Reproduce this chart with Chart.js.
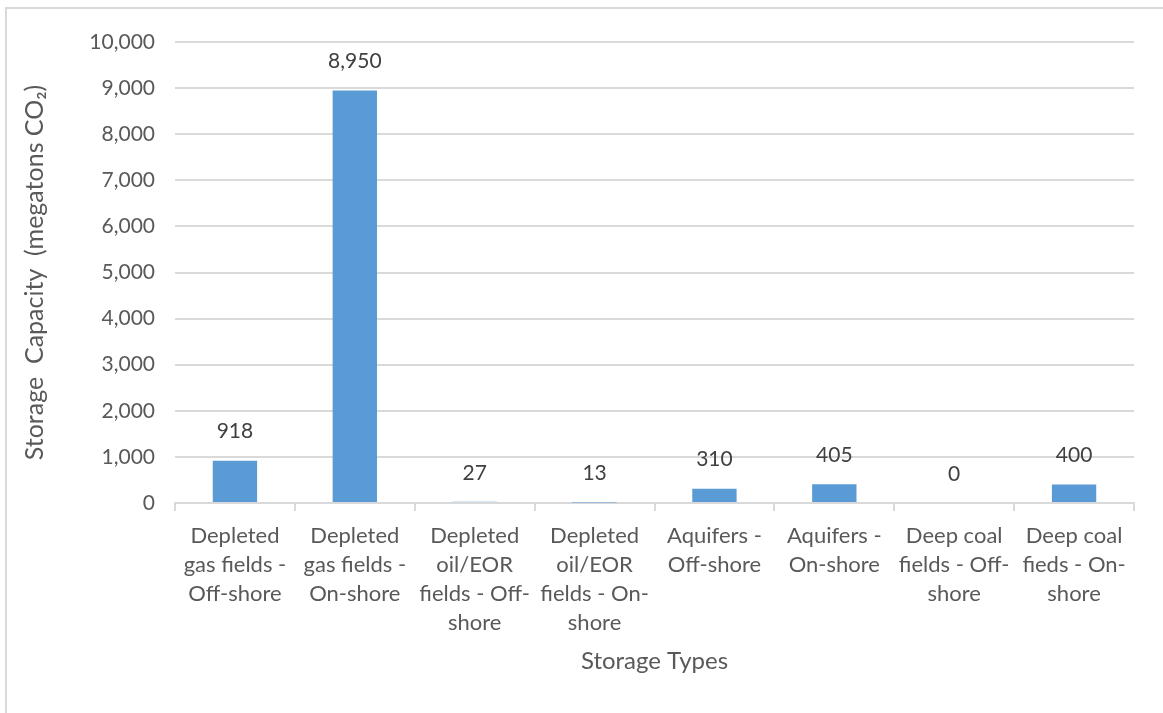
<!DOCTYPE html>
<html>
<head>
<meta charset="utf-8">
<script src="https://cdn.jsdelivr.net/npm/chart.js@4.4.1/dist/chart.umd.min.js"></script>
<style>
  html, body { margin: 0; padding: 0; background: #fff; }
  .frame {
    position: absolute; left: 5px; top: 7px; width: 1200px; height: 760px;
    border: 2px solid #d9d9d9; box-sizing: border-box;
  }
  .wrap { position: absolute; left: 0; top: 0; width: 1163px; height: 713px; }
</style>
</head>
<body>
<div class="frame"></div>
<div class="wrap"><canvas id="storageChart"></canvas></div>
<script>
// storage types and capacities (megatons CO2)
const storageTypes = [
  ["Depleted", "gas fields -", "Off-shore"],
  ["Depleted", "gas fields -", "On-shore"],
  ["Depleted", "oil/EOR", "fields - Off-", "shore"],
  ["Depleted", "oil/EOR", "fields - On-", "shore"],
  ["Aquifers -", "Off-shore"],
  ["Aquifers -", "On-shore"],
  ["Deep coal", "fields - Off-", "shore"],
  ["Deep coal", "fieds - On-", "shore"]
];
const capacity = [918, 8950, 27, 13, 310, 405, 0, 400];
const yTicks = [0, 1000, 2000, 3000, 4000, 5000, 6000, 7000, 8000, 9000, 10000];

const FONT = "Lato, 'Open Sans', sans-serif";

// value labels above each bar
const barValueLabels = {
  id: 'barValueLabels',
  afterDatasetsDraw(chart) {
    const ctx = chart.ctx;
    const meta = chart.getDatasetMeta(0);
    ctx.save();
    ctx.font = "21px " + FONT;
    ctx.fillStyle = '#404040';
    ctx.textAlign = 'center';
    ctx.textBaseline = 'middle';
    meta.data.forEach((bar, i) => {
      ctx.fillText(capacity[i].toLocaleString('en-US'), bar.x, bar.y - 29);
    });
    ctx.restore();
  }
};

new Chart(document.getElementById('storageChart'), {
  type: 'bar',
  data: {
    labels: storageTypes,
    datasets: [{
      data: capacity,
      backgroundColor: '#5b9bd5',
      borderWidth: 0,
      categoryPercentage: 1,
      barPercentage: 0.37
    }]
  },
  options: {
    responsive: true,
    maintainAspectRatio: false,
    animation: false,
    layout: { padding: { left: 20, top: 42, right: 29, bottom: 37 } },
    plugins: {
      legend: { display: false },
      tooltip: { enabled: false }
    },
    scales: {
      x: {
        offset: true,
        grid: {
          offset: true,
          drawOnChartArea: false,
          drawTicks: true,
          tickLength: 8,
          color: '#d9d9d9',
          lineWidth: 2
        },
        border: { color: '#d9d9d9', width: 2 },
        ticks: {
          color: '#595959',
          font: { family: FONT, size: 22, lineHeight: 1.32 },
          maxRotation: 0,
          minRotation: 0,
          autoSkip: false,
          padding: 10
        },
        title: {
          display: true,
          text: 'Storage Types',
          color: '#595959',
          font: { family: FONT, size: 24 },
          padding: { top: 10, bottom: 0 }
        },
        afterFit(scale) { scale.height = 173; }
      },
      y: {
        min: 0,
        max: 10000,
        afterBuildTicks(scale) { scale.ticks = yTicks.map(v => ({ value: v })); },
        grid: { color: '#d9d9d9', lineWidth: 2, drawTicks: false },
        border: { display: false },
        ticks: {
          color: '#595959',
          font: { family: FONT, size: 21 },
          padding: 20,
          callback: v => v.toLocaleString('en-US')
        },
        title: {
          display: true,
          text: 'Storage  Capacity  (megatons CO\u2082)',
          color: '#595959',
          font: { family: FONT, size: 25 },
          padding: { top: 0, bottom: 0 }
        },
        afterFit(scale) { scale.width = 155; }
      }
    }
  },
  plugins: [barValueLabels]
});
</script>
</body>
</html>
